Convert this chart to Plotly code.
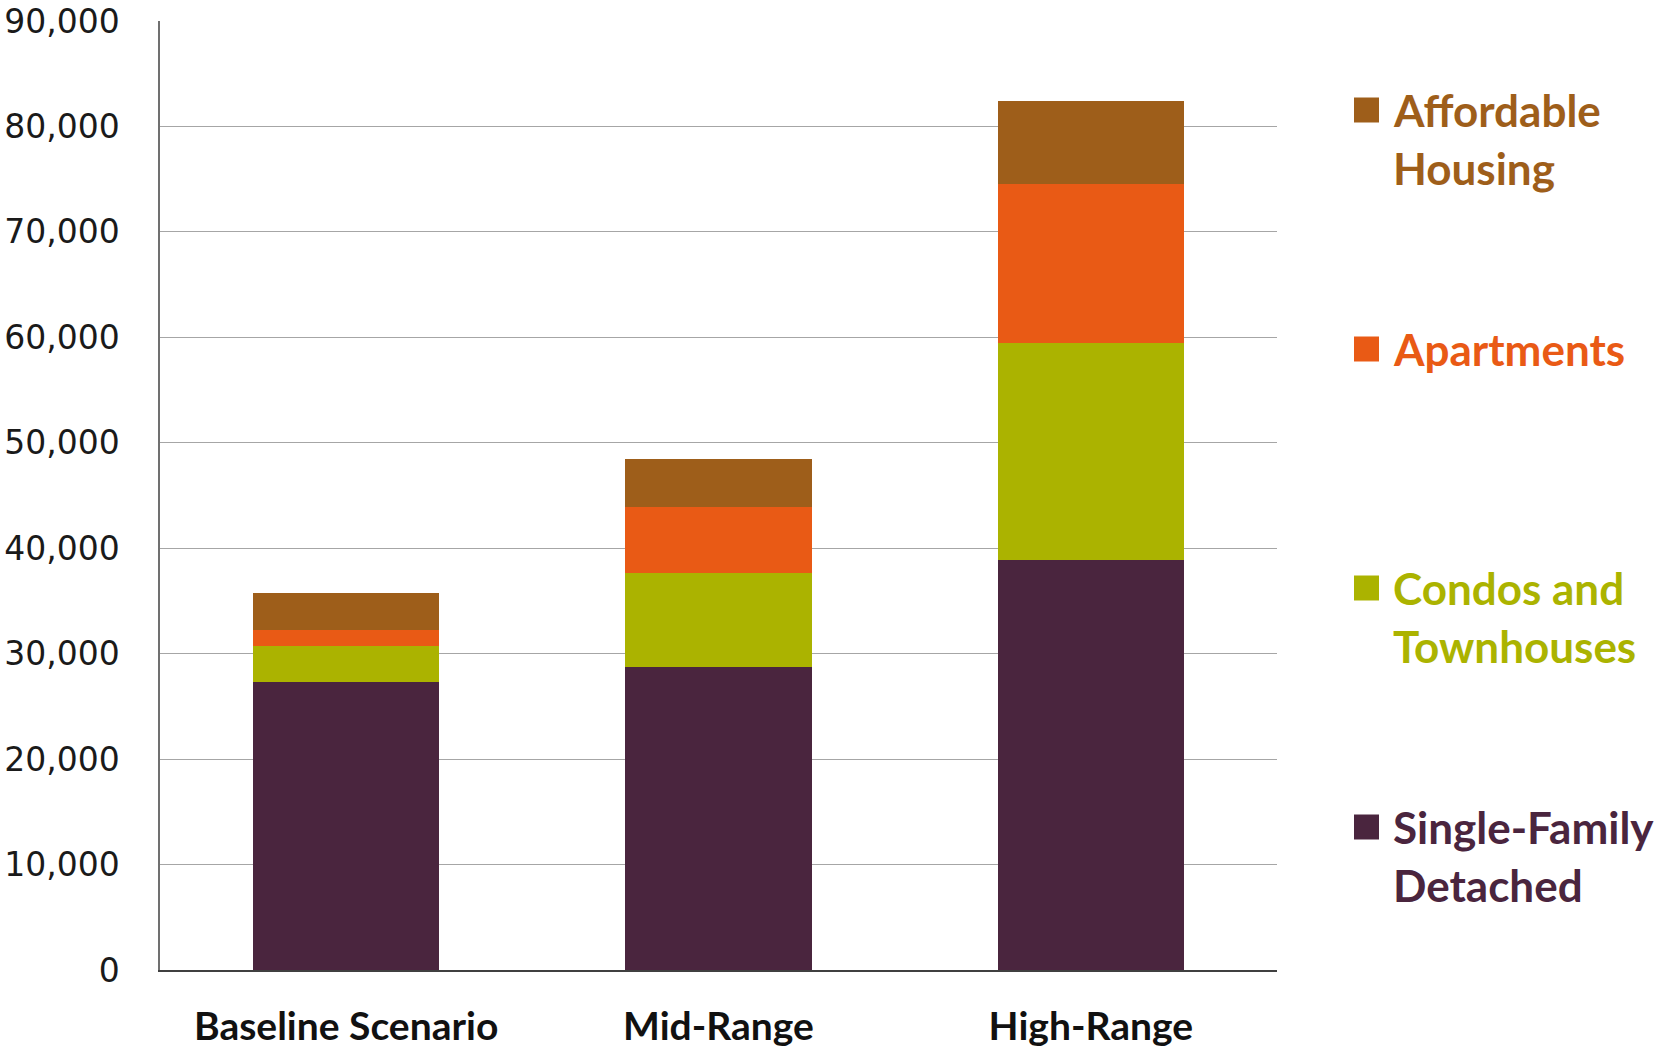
import plotly.graph_objects as go

# Housing unit scenarios, stacked by type
scenarios = ["Baseline Scenario", "Mid-Range", "High-Range"]
single_family = [27300, 28750, 38840]
condos_townhouses = [3420, 8860, 20600]
apartments = [1540, 6310, 15080]
affordable = [3450, 4500, 7890]

y_ticks = [0, 10000, 20000, 30000, 40000, 50000, 60000, 70000, 80000, 90000]
y_tick_text = ["0", "10,000", "20,000", "30,000", "40,000", "50,000",
               "60,000", "70,000", "80,000", "90,000"]

series = [
    ("Single-Family<br>Detached", single_family, "#4A253E"),
    ("Condos and<br>Townhouses", condos_townhouses, "#ABB300"),
    ("Apartments", apartments, "#E95A15"),
    ("Affordable<br>Housing", affordable, "#9E5E1A"),
]

W, H = 1659, 1047
L, R, T, B = 160, 382, 21, 77

fig = go.Figure()
for name, vals, color in series:
    fig.add_trace(go.Bar(
        x=scenarios, y=vals, name=name,
        marker=dict(color=color, line=dict(width=0)),
        showlegend=False,
    ))


def px_to_paper(px, py):
    return (px - L) / (W - L - R), (H - B - py) / (H - T - B)


# Hand-placed legend: colour swatch plus wrapped label lines
legend_rows = [
    (["Affordable", "Housing"], "#9E5E1A", 110),
    (["Apartments"], "#E95A15", 349),
    (["Condos and", "Townhouses"], "#ABB300", 588),
    (["Single-Family", "Detached"], "#4A253E", 827),
]
line_gap = 58
shapes = []
annotations = []
for lines, color, cy in legend_rows:
    x0, y0 = px_to_paper(1354, cy - 12.5)
    x1, y1 = px_to_paper(1379, cy + 12.5)
    shapes.append(dict(type="rect", xref="paper", yref="paper",
                       x0=x0, x1=x1, y0=y1, y1=y0,
                       fillcolor=color, line=dict(width=0)))
    for i, txt in enumerate(lines):
        tx, ty = px_to_paper(1391, cy + i * line_gap)
        annotations.append(dict(
            x=tx, y=ty, xref="paper", yref="paper", text=txt,
            showarrow=False, xanchor="left", yanchor="middle",
            font=dict(family="Lato", size=44, color=color, weight="bold"),
        ))

fig.update_layout(
    barmode="stack",
    bargap=0.5,
    width=W, height=H,
    margin=dict(l=L, r=R, t=T, b=B, autoexpand=False),
    paper_bgcolor="white",
    plot_bgcolor="white",
    shapes=shapes,
    annotations=annotations,
    xaxis=dict(
        showline=True, linecolor="#404040", linewidth=1.5,
        showgrid=False, ticks="",
        tickfont=dict(family="Lato", size=39, color="#111111", weight="bold"),
        ticklabelstandoff=21,
    ),
    yaxis=dict(
        range=[0, 90000],
        tickvals=y_ticks, ticktext=y_tick_text,
        showline=True, linecolor="#707070", linewidth=1.5,
        showgrid=True, gridcolor="#A6A6A6", gridwidth=1.2,
        zeroline=False, ticks="",
        tickfont=dict(family="DejaVu Sans", size=33, color="#1a1a1a"),
        ticklabelstandoff=32,
    ),
)

fig.write_html("out.html")
